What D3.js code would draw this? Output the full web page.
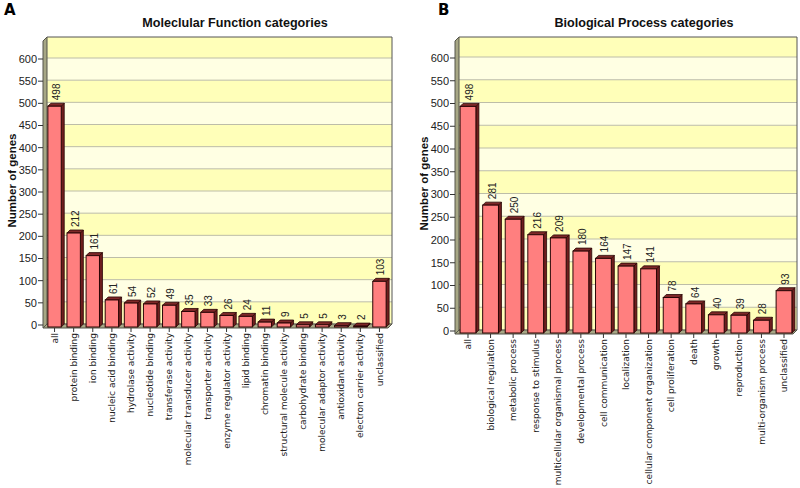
<!DOCTYPE html>
<html><head><meta charset="utf-8">
<script src="https://cdn.jsdelivr.net/npm/d3@7"></script>
<style>body{margin:0;background:#fff}svg{display:block}text{font-family:"Liberation Sans",Arial,sans-serif}</style>
</head><body>
<svg id="c" width="800" height="488"></svg>
<script>
const mfCategories = ["all","protein binding","ion binding","nucleic acid binding","hydrolase activity","nucleotide binding","transferase activity","molecular transducer activity","transporter activity","enzyme regulator activity","lipid binding","chromatin binding","structural molecule activity","carbohydrate binding","molecular adaptor activity","antioxidant activity","electron carrier activity","unclassified"];
const mfValues = [498,212,161,61,54,52,49,35,33,26,24,11,9,5,5,3,2,103];
const bpCategories = ["all","biological regulation","metabolic process","response to stimulus","multicellular organismal process","developmental process","cell communication","localization","cellular component organization","cell proliferation","death","growth","reproduction","multi-organism process","unclassified"];
const bpValues = [498,281,250,216,209,180,164,147,141,78,64,40,39,28,93];
const yTicks = [0,50,100,150,200,250,300,350,400,450,500,550,600];
const titles = ["Moleclular Function categories","Biological Process categories"];
const panelLetters = ["A","B"];
const yTitle = "Number of genes";

const svg = d3.select("#c");
const D = 3;

function panel(cfg){
  const {L, R, top, base, y600, cats, vals, title, titleX, letter, letterX} = cfg;
  const g = svg.append("g");
  const y = d3.scaleLinear().domain([0,600]).range([base, y600]);
  const x = d3.scaleBand().domain(cats).range([cfg.x0, cfg.x1]).paddingInner(0.3).paddingOuter(0.15);
  const bw = x.bandwidth();
  const backL = L + D + 1;
  const bandStarts = d3.range(0, 650, 50);
  bandStarts.forEach(v=>{
    const yt = Math.max(top, y(v+50)), yb = y(v);
    if (yb <= top) return;
    g.append("rect").attr("x", backL).attr("y", yt).attr("width", R-backL).attr("height", yb-yt)
      .attr("fill", (v/50)%2===0 ? "#FFFFB9" : "#FFFFE3");
  });
  yTicks.forEach(v=>{
    g.append("line").attr("x1", backL).attr("x2", R).attr("y1", y(v)).attr("y2", y(v))
      .attr("stroke", "#BDBDA8").attr("stroke-width", 1);
  });
  g.append("path").attr("d", `M${backL},${top}H${R}V${base}`).attr("fill","none").attr("stroke","#555").attr("stroke-width",1);
  g.append("path").attr("d", `M${L},${top+D+1}L${backL},${top}L${backL},${base}L${L},${base+D+1}Z`)
    .attr("fill","#A7A785").attr("stroke","#55554a").attr("stroke-width",1);
  g.append("path").attr("d", `M${L},${base+D+1}L${backL},${base}L${R},${base}L${R-D-1},${base+D+1}Z`)
    .attr("fill","#A7A785").attr("stroke","#55554a").attr("stroke-width",1);
  yTicks.forEach(v=>{
    g.append("line").attr("x1", L-5).attr("x2", L).attr("y1", y(v)+1).attr("y2", y(v)+1).attr("stroke","#333");
    g.append("text").attr("x", L-6).attr("y", y(v)+1).attr("dy","0.35em").attr("text-anchor","end")
      .attr("font-size", 11).attr("fill","#222").text(v);
  });
  cats.forEach((c,i)=>{
    const v = vals[i];
    const x0 = x(c), yt = y(v)+D, yb = base+D;
    g.append("path").attr("d", `M${x0+bw},${yt}L${x0+bw+D},${yt-D}L${x0+bw+D},${base}L${x0+bw},${yb}Z`)
      .attr("fill","#6E1E1E").attr("stroke","#2a0505").attr("stroke-width",0.8);
    g.append("path").attr("d", `M${x0},${yt}L${x0+D},${yt-D}L${x0+bw+D},${yt-D}L${x0+bw},${yt}Z`)
      .attr("fill","#7E2828").attr("stroke","#2a0505").attr("stroke-width",0.8);
    g.append("rect").attr("x", x0).attr("y", yt).attr("width", bw).attr("height", yb-yt)
      .attr("fill","#FF7F7F").attr("stroke","#2a0505").attr("stroke-width",1);
    const cx = x0 + bw/2 + D/2;
    g.append("text").attr("transform", `translate(${cx},${yt-D-3}) rotate(-90)`)
      .attr("dy","0.35em").attr("font-size",10).attr("fill","#222").text(v);
    g.append("line").attr("x1", x0+bw/2).attr("x2", x0+bw/2).attr("y1", base+D+1).attr("y2", base+D+5).attr("stroke","#333");
    g.append("text").attr("transform", `translate(${x0+bw/2},${base+D+6}) rotate(-90)`)
      .attr("text-anchor","end").attr("dy","0.35em").attr("font-size",9)
      .style("font-family","'DejaVu Sans',Verdana,sans-serif").attr("fill","#222").text(c);
  });
  svg.append("text").attr("x", titleX).attr("y", 27).attr("text-anchor","middle").attr("font-weight","bold")
    .attr("font-size", 12.6).attr("fill","#111").text(title);
  svg.append("text").attr("x", letterX).attr("y", 15).attr("font-weight","bold").attr("font-size", 15)
    .style("font-family","'DejaVu Sans',sans-serif").attr("fill","#000").text(letter);
  svg.append("text").attr("transform", `translate(${L-31},${(top+base)/2}) rotate(-90)`)
    .attr("text-anchor","middle").attr("dy","0.35em").attr("font-weight","bold").attr("font-size", 11.5)
    .attr("fill","#111").text(yTitle);
}

panel({L:43, R:392, top:37, base:324, y600:58, x0:45, x1:389, cats:mfCategories, vals:mfValues,
  title:titles[0], titleX:235, letter:panelLetters[0], letterX:4});
panel({L:455, R:797, top:37, base:330, y600:57, x0:456.7, x1:795.3, cats:bpCategories, vals:bpValues,
  title:titles[1], titleX:644, letter:panelLetters[1], letterX:438});
</script>
</body></html>
